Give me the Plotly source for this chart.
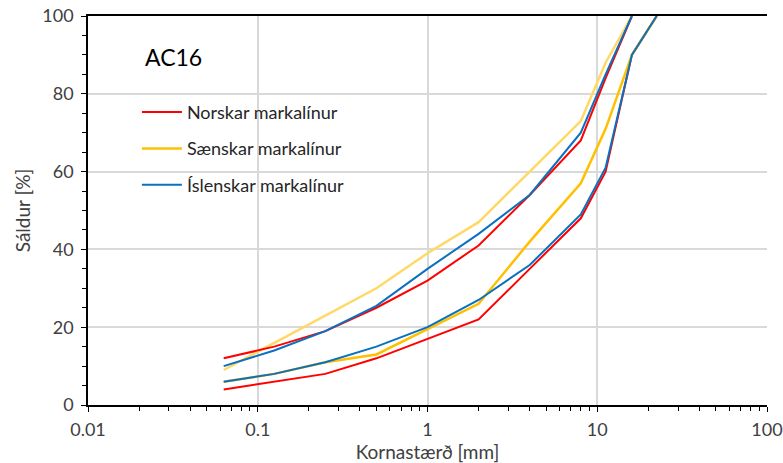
import plotly.graph_objects as go

# Sieve sizes [mm]
sieves = [0.063, 0.125, 0.25, 0.5, 1, 2, 4, 8, 11.2, 16, 22.4]

# Norskar markalínur (lower / upper)
nor_low = [4, 6, 8, 12, 17, 22, 35, 48, 60, 90, 100]
nor_up_x = [0.063, 0.125, 0.25, 0.5, 1, 2, 4, 8, 11.2, 16]
nor_up = [12, 15, 19, 25, 32, 41, 54, 68, 84, 100]

# Sænskar markalínur (lower / upper)
swe_low = [6, 8, 11, 13, 19.5, 26, 42, 57, 71, 90, 100]
swe_up_x = [0.063, 0.125, 0.25, 0.5, 1, 2, 4, 8, 11.2, 16]
swe_up = [9, 16, 23, 30, 39, 47, 60, 73, 88, 100]

# Íslenskar markalínur (lower / upper)
isl_low = [6, 8, 11, 15, 20, 27, 36, 49, 61, 90, 100]
isl_up_x = [0.063, 0.125, 0.25, 0.5, 1, 2, 4, 8, 11.2, 16]
isl_up = [10, 14, 19, 25.5, 35, 44, 54, 70, 85, 100]

names = ["Norskar markalínur", "Sænskar markalínur", "Íslenskar markalínur"]

x_tickvals = [0.01, 0.1, 1, 10, 100]
x_ticktext = ["0.01", "0.1", "1", "10", "100"]
y_tickvals = [0, 20, 40, 60, 80, 100]

RED = "#FF0000"
YEL = "#FFC000"
LYEL = "#FFD966"
BLUE = "#0A70C0"

FONT = "Lato"
fig = go.Figure()

fig.add_trace(go.Scatter(x=swe_up_x, y=swe_up, mode="lines", line=dict(color=LYEL, width=2.5),
                         showlegend=False, legendgroup="swe"))
fig.add_trace(go.Scatter(x=sieves, y=nor_low, mode="lines", line=dict(color=RED, width=2),
                         name=names[0], legendgroup="nor"))
fig.add_trace(go.Scatter(x=nor_up_x, y=nor_up, mode="lines", line=dict(color=RED, width=2),
                         showlegend=False, legendgroup="nor"))
fig.add_trace(go.Scatter(x=sieves, y=swe_low, mode="lines", line=dict(color=YEL, width=2.5),
                         name=names[1], legendgroup="swe"))
fig.add_trace(go.Scatter(x=sieves, y=isl_low, mode="lines", line=dict(color=BLUE, width=2),
                         name=names[2], legendgroup="isl"))
fig.add_trace(go.Scatter(x=isl_up_x, y=isl_up, mode="lines", line=dict(color=BLUE, width=2),
                         showlegend=False, legendgroup="isl"))

fig.update_layout(
    width=783, height=463,
    margin=dict(l=88, r=16, t=16, b=58, autoexpand=False),
    paper_bgcolor="white", plot_bgcolor="white",
    font=dict(family=FONT, size=18, color="#404040"),
    legend=dict(x=0.072, y=0.80, xanchor="left", yanchor="top",
                bgcolor="rgba(0,0,0,0)", font=dict(size=18, color="#262626"),
                itemwidth=40, tracegroupgap=10, traceorder="grouped"),
    annotations=[dict(text="AC16", x=0.081, y=0.895, xref="paper", yref="paper",
                      xanchor="left", yanchor="middle", showarrow=False,
                      font=dict(size=23, color="#000000"))],
)

fig.update_xaxes(
    type="log", range=[-2, 2], tickvals=x_tickvals, ticktext=x_ticktext,
    showgrid=True, gridcolor="#D9D9D9", gridwidth=1.5,
    showline=True, linecolor="black", linewidth=1.5, mirror=True,
    ticks="outside", ticklen=5, tickcolor="black",
    minor=dict(ticks="outside", ticklen=4, tickcolor="black", showgrid=False, dtick="D1"),
    title=dict(text="Kornastærð [mm]", standoff=2, font=dict(size=19, color="#404040")),
    tickfont=dict(size=18, color="#404040"), ticklabelstandoff=3,
    zeroline=False, automargin=False,
)
fig.update_yaxes(
    range=[0, 100], tickvals=y_tickvals,
    showgrid=True, gridcolor="#D9D9D9", gridwidth=1.5,
    showline=True, linecolor="black", linewidth=1.5,
    ticks="outside", ticklen=5, tickcolor="black",
    minor=dict(ticks="outside", ticklen=4, tickcolor="black", dtick=5, showgrid=False),
    title=dict(text="Sáldur [%]", standoff=7, font=dict(size=19, color="#404040")),
    tickfont=dict(size=18, color="#404040"), ticklabelstandoff=4,
    zeroline=False, automargin=False,
)

fig.write_html("out.html", config={"displayModeBar": False},
               post_script="document.body.style.margin='0';document.body.style.overflow='hidden';")
